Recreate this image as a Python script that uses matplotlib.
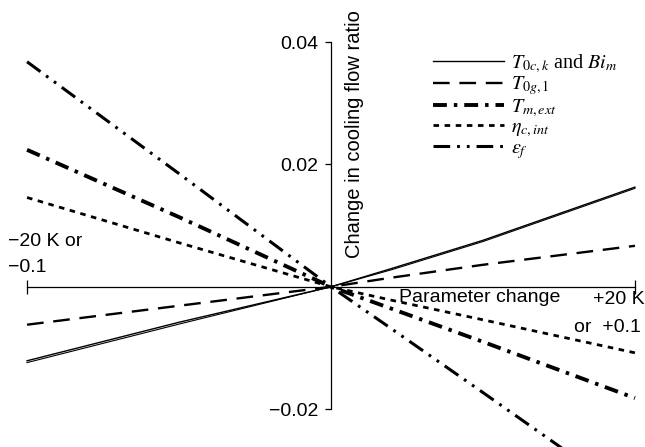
import matplotlib
matplotlib.use("Agg")
import matplotlib.pyplot as plt

plt.rcParams["font.family"] = ["Liberation Sans", "DejaVu Sans"]
plt.rcParams["mathtext.fontset"] = "stix"
plt.rcParams["lines.scale_dashes"] = False

# parameter change (K, or 0.1 steps) and change in cooling flow ratio
x = [-20, -10, 0, 4, 10, 20]
t0ck = [-0.0121, -0.0058, 0.0, 0.0030, 0.0076, 0.0163]
bim = [-0.0124, -0.0061, 0.0, 0.0028, 0.0074, 0.0161]
t0g1 = [-0.0062, -0.0031, 0.0, 0.0015, 0.0036, 0.0067]
tmext = [0.0224, 0.0114, 0.0, -0.0036, -0.0090, -0.0182]
eta_c = [0.0146, 0.0072, 0.0, -0.0022, -0.0054, -0.0108]
eps_f = [0.0368, 0.0185, 0.0, -0.0069, -0.0173, -0.0348]

yticks = [-0.02, 0.02, 0.04]
yticklabels = ["\u22120.02", "0.02", "0.04"]

W, H = 645, 447
fig = plt.figure(figsize=(W / 100, H / 100), dpi=100)
ax = fig.add_axes([0, 0, 1, 1])
ax.set_xlim(-21.78, 20.66)
ax.set_ylim(-0.0262, 0.0469)


def px(u, v):
    # figure pixel -> figure fraction
    return u / W, 1 - v / H


ax.plot(x, t0ck, color="black", lw=1.0, label=r"$T_{0c,k}$ and $Bi_m$")
ax.plot(x, bim, color="black", lw=0.8)
ax.plot(x, t0g1, color="black", lw=1.7, dashes=(12, 7), label=r"$T_{0g,1}$")
ax.plot(x, tmext, color="black", lw=2.8, dashes=(10, 5, 2.5, 5),
        label=r"$T_{m,ext}$")
ax.plot(x, eta_c, color="black", lw=2.0, dashes=(4, 4),
        label=r"$\eta_{c,int}$")
ax.plot(x, eps_f, color="black", lw=2.2, dashes=(12, 5, 2, 5, 2, 5),
        label=r"$\varepsilon_f$")

# axes crossing at the origin
for side in ["top", "right"]:
    ax.spines[side].set_visible(False)
ax.spines["left"].set_position(("data", 0))
ax.spines["bottom"].set_position(("data", 0))
ax.spines["left"].set_bounds(-0.02, 0.04)
ax.spines["bottom"].set_bounds(-20, 20)
ax.spines["left"].set_linewidth(0.9)
ax.spines["bottom"].set_linewidth(0.9)

ax.set_yticks(yticks)
ax.set_yticklabels(yticklabels, fontsize=14)
ax.tick_params(axis="y", direction="out", length=4, width=0.9, pad=5)
ax.set_xticks([-20, 20])
ax.set_xticklabels([])
ax.tick_params(axis="x", direction="inout", length=10, width=0.9)

fig.text(*px(8, 241), "\u221220 K or", fontsize=14, ha="left", va="center")
fig.text(*px(8, 267), "\u22120.1", fontsize=14, ha="left", va="center")
fig.text(*px(480, 298), "Parameter change", fontsize=14,
         ha="center", va="center")
fig.text(*px(645, 299), "+20 K", fontsize=14, ha="right", va="center")
fig.text(*px(641, 328), "or  +0.1", fontsize=14, ha="right", va="center")
fig.text(*px(355, 134), "Change in cooling flow ratio", fontsize=14.5,
         rotation=90, ha="center", va="center")

leg = ax.legend(loc="upper left", bbox_to_anchor=px(425, 44), frameon=False,
                prop={"family": "Liberation Serif", "size": 14.5},
                handlelength=3.5, handletextpad=0.35, labelspacing=-0.02,
                borderaxespad=0)

fig.savefig("out.png", dpi=100)
